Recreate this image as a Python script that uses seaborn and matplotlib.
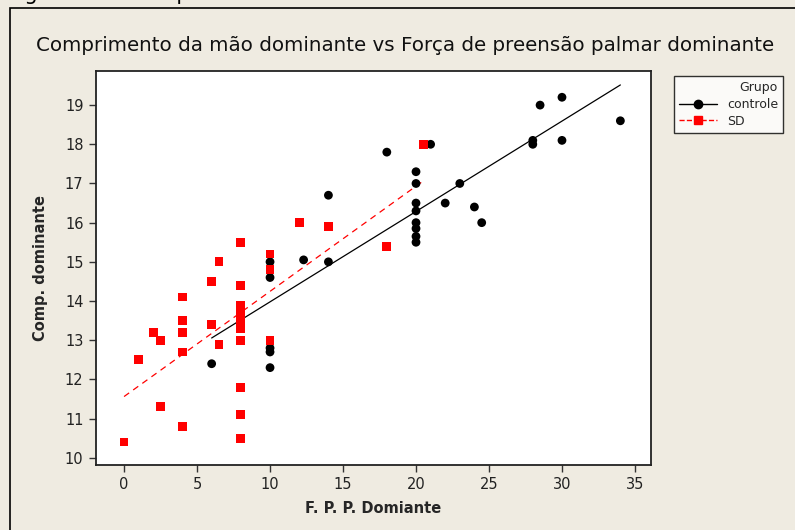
import matplotlib
matplotlib.use("Agg")
import matplotlib.pyplot as plt
from matplotlib.lines import Line2D
from matplotlib.patches import Rectangle
import pandas as pd
import seaborn as sns

# Data
controle_x = [6, 10, 10, 10, 10, 10, 12.3, 14, 14, 18, 20, 20, 20, 20, 20, 20, 20, 20,
              21, 22, 23, 24, 24.5, 28, 28, 28.5, 30, 30, 34]
controle_y = [12.4, 15.0, 14.6, 12.8, 12.7, 12.3, 15.05, 16.7, 15.0, 17.8, 17.3, 17.0, 16.5,
              16.3, 16.0, 15.85, 15.65, 15.5, 18.0, 16.5, 17.0, 16.4, 16.0, 18.0, 18.1, 19.0,
              19.2, 18.1, 18.6]
sd_x = [0, 1, 2, 2.5, 2.5, 4, 4, 4, 4, 4, 6, 6, 6.5, 6.5, 8, 8, 8, 8, 8, 8, 8, 8, 8, 8,
        10, 10, 10, 12, 14, 18, 20.5]
sd_y = [10.4, 12.5, 13.2, 13.0, 11.3, 14.1, 13.5, 13.2, 12.7, 10.8, 14.5, 13.4, 15.0, 12.9,
        15.5, 14.4, 13.9, 13.7, 13.5, 13.3, 13.0, 11.8, 11.1, 10.5, 15.2, 14.8, 13.0, 16.0,
        15.9, 15.4, 18.0]
grupos = ["controle", "SD"]
x_ticks = [0, 5, 10, 15, 20, 25, 30, 35]
y_ticks = [10, 11, 12, 13, 14, 15, 16, 17, 18, 19]

df = pd.concat([
    pd.DataFrame({"fpp": controle_x, "comp": controle_y, "Grupo": grupos[0]}),
    pd.DataFrame({"fpp": sd_x, "comp": sd_y, "Grupo": grupos[1]}),
])

BG = "#efebe1"
sns.set_style("white")
plt.rcParams["font.family"] = ["DejaVu Sans"]

fig = plt.figure(figsize=(7.95, 5.3), dpi=100, facecolor=BG)
ax = fig.add_axes([0.1208, 0.123, 0.6981, 0.743])
ax.set_facecolor("white")

# frame around the graph window
fig.patches.append(Rectangle((10 / 795, -0.05), 1.1, 1 - 8 / 530 + 0.05, transform=fig.transFigure,
                             facecolor="none", edgecolor="black", lw=1.2, zorder=0))
fig.text(0.01, 1.012, "Figura 30 \u2013 Comprimento da m\u00e3o FPPD", fontsize=15,
         ha="left", va="center", color="black")

colors = {"controle": "black", "SD": "#ff0000"}
markers = {"controle": "o", "SD": "s"}

sns.scatterplot(data=df, x="fpp", y="comp", hue="Grupo", style="Grupo",
                palette=colors, markers=markers, s=40, linewidth=0,
                legend=False, ax=ax, zorder=3)

sub = df[df["Grupo"] == "controle"]
sns.regplot(data=sub, x="fpp", y="comp", scatter=False, ci=None, truncate=True,
            line_kws={"color": "black", "lw": 0.9}, ax=ax)
sub = df[df["Grupo"] == "SD"]
sns.regplot(data=sub, x="fpp", y="comp", scatter=False, ci=None, truncate=True,
            line_kws={"color": "#ff0000", "lw": 0.9, "ls": (0, (5, 4))}, ax=ax)

ax.set_xlim(-1.92, 36.1)
ax.set_ylim(9.82, 19.87)
ax.set_xticks(x_ticks)
ax.set_yticks(y_ticks)
ax.tick_params(axis="both", direction="out", length=5, width=1, color="#333333",
               labelsize=10.5, labelcolor="#222222", bottom=True, left=True, pad=4)
for sp in ax.spines.values():
    sp.set_color("#222222")
    sp.set_linewidth(1.3)

ax.set_xlabel("F. P. P. Domiante", fontsize=10.5, fontweight="bold", labelpad=6)
ax.set_ylabel("Comp. dominante", fontsize=10.5, fontweight="bold", labelpad=12)
fig.text(0.509, 0.915, "Comprimento da m\u00e3o dominante vs For\u00e7a de preens\u00e3o palmar dominante",
         fontsize=14.3, ha="center", va="center", color="#111111")

handles = [
    Line2D([], [], color="black", marker="o", markersize=6, lw=1),
    Line2D([], [], color="#ff0000", marker="s", markersize=6, lw=1, ls="--"),
]
leg = fig.legend(handles, grupos, title="Grupo", loc="upper left",
                 bbox_to_anchor=(668 / 795, 1 - 70 / 530), frameon=True,
                 fontsize=9, title_fontsize=9, handlelength=3, borderpad=0.4,
                 labelspacing=0.3, alignment="right", fancybox=False)
leg.get_frame().set_edgecolor("black")
leg.get_frame().set_facecolor("white")
leg.get_frame().set_linewidth(1)

fig.savefig("out.png", dpi=100, facecolor=BG)
